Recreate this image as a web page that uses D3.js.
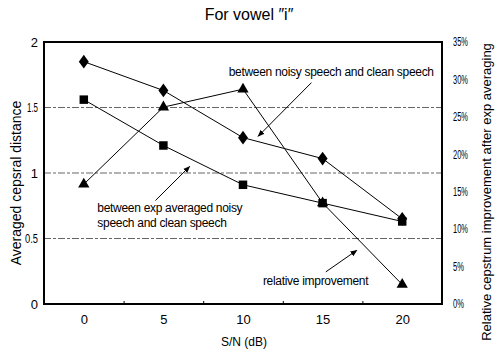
<!DOCTYPE html>
<html>
<head>
<meta charset="utf-8">
<script src="https://cdn.jsdelivr.net/npm/d3@7"></script>
<style>
  html, body { margin: 0; padding: 0; background: #fff; }
  svg { display: block; }
  text { font-family: "Liberation Sans", Arial, sans-serif; fill: #000; }
</style>
</head>
<body>
<svg id="chart" width="497" height="352"></svg>
<script>
// ---- data ----
const snr = [0, 5, 10, 15, 20];
const noisyDist = [1.85, 1.63, 1.27, 1.11, 0.65];      // diamonds
const expAvgDist = [1.56, 1.21, 0.91, 0.77, 0.63];     // squares
const relImprove = [16.0, 26.3, 28.7, 13.5, 2.6];      // triangles (%)
const leftTicks = [0, 0.5, 1, 1.5, 2];
const rightTicks = [0, 5, 10, 15, 20, 25, 30, 35];
const xTicks = [0, 5, 10, 15, 20];
const xMinor = [2.5, 7.5, 12.5, 17.5];
const gridVals = [0.5, 1, 1.5];
const titleText = "For vowel \u2033i\u2033";
const xLabel = "S/N (dB)";
const yLabel = "Averaged cepsral distance";
const y2Label = "Relative cepstrum improvement after exp averaging";
// annotations in data coordinates (x in dB, y in left-axis units)
const notes = [
  { lines: ["between noisy speech and clean speech"], x: 9.1, y: 1.74, from: [14.3, 1.69], to: [10.95, 1.28] },
  { lines: ["between exp averaged noisy", "speech and clean speech"], x: 0.85, y: 0.70, from: [4.5, 0.79], to: [6.65, 1.05] },
  { lines: ["relative improvement"], x: 11.25, y: 0.145, from: [15.2, 0.245], to: [17.15, 0.41] }
];

// ---- layout ----
const svg = d3.select("#chart");
const L = 44, R = 442, T = 42, B = 304;

const x = d3.scaleLinear().domain([-2.5, 22.5]).range([L, R]);
const y = d3.scaleLinear().domain([0, 2]).range([B, T]);
const y2 = d3.scaleLinear().domain([0, 35]).range([B, T]);

svg.append("defs").append("marker")
  .attr("id", "ah").attr("viewBox", "0 0 10 10")
  .attr("refX", 9).attr("refY", 5)
  .attr("markerWidth", 7).attr("markerHeight", 7)
  .attr("markerUnits", "userSpaceOnUse")
  .attr("orient", "auto")
  .append("path").attr("d", "M0,1 L10,5 L0,9 Z").attr("fill", "#000");

// grid lines
svg.append("g").selectAll("line").data(gridVals).join("line")
  .attr("x1", L).attr("x2", R)
  .attr("y1", d => y(d)).attr("y2", d => y(d))
  .attr("stroke", "#666").attr("stroke-width", 1)
  .attr("stroke-dasharray", "7,2,3,2");

// left axis labels
const gl = svg.append("g").attr("transform", `translate(${L},0)`)
  .call(d3.axisLeft(y).tickValues(leftTicks).tickSize(0).tickPadding(6)
    .tickFormat(d => d === 0.5 ? "0.5" : d3.format("")(d)));
gl.select(".domain").remove();
gl.selectAll("text").attr("font-size", 13).attr("font-family", "Liberation Sans, Arial, sans-serif")
  .each(function(d) {
    const s = d3.select(this);
    if (d === 0.5) s.attr("textLength", 13).attr("lengthAdjust", "spacingAndGlyphs");
    if (d === 1.5) s.attr("textLength", 11).attr("lengthAdjust", "spacingAndGlyphs");
  });

// right axis labels
const gr = svg.append("g").attr("transform", `translate(${R},0)`)
  .call(d3.axisRight(y2).tickValues(rightTicks).tickSize(0).tickPadding(11)
    .tickFormat(d => d + "%"));
gr.select(".domain").remove();
gr.selectAll("text").attr("font-size", 12).attr("font-family", "Liberation Sans, Arial, sans-serif")
  .attr("textLength", d => d < 10 ? 11 : 15).attr("lengthAdjust", "spacingAndGlyphs");

// bottom axis labels
const gb = svg.append("g").attr("transform", `translate(0,${B})`)
  .call(d3.axisBottom(x).tickValues(xTicks).tickSize(0).tickPadding(11));
gb.select(".domain").remove();
gb.selectAll("text").attr("font-size", 13).attr("font-family", "Liberation Sans, Arial, sans-serif");

// bottom minor ticks (inward)
const gm = svg.append("g").attr("transform", `translate(0,${B})`)
  .call(d3.axisTop(x).tickValues(xMinor).tickSize(3).tickFormat(""));
gm.select(".domain").remove();
gm.selectAll("line").attr("stroke", "#000");

// frame
svg.append("rect").attr("x", L).attr("y", T).attr("width", R - L).attr("height", B - T)
  .attr("fill", "none").attr("stroke", "#000").attr("stroke-width", 2);

// series lines
const lineL = d3.line().x((d, i) => x(snr[i])).y(d => y(d));
const lineR = d3.line().x((d, i) => x(snr[i])).y(d => y2(d));
svg.append("path").attr("d", lineL(noisyDist)).attr("fill", "none").attr("stroke", "#000").attr("stroke-width", 1);
svg.append("path").attr("d", lineL(expAvgDist)).attr("fill", "none").attr("stroke", "#000").attr("stroke-width", 1);
svg.append("path").attr("d", lineR(relImprove)).attr("fill", "none").attr("stroke", "#000").attr("stroke-width", 1);

// markers
const sym = (type, size) => d3.symbol().type(type).size(size)();
svg.append("g").selectAll("path").data(relImprove).join("path")
  .attr("d", sym(d3.symbolTriangle, 55))
  .attr("transform", (d, i) => `translate(${x(snr[i])},${y2(d)})`).attr("fill", "#000");
svg.append("g").selectAll("path").data(expAvgDist).join("path")
  .attr("d", sym(d3.symbolSquare, 72))
  .attr("transform", (d, i) => `translate(${x(snr[i])},${y(d)})`).attr("fill", "#000");
svg.append("g").selectAll("path").data(noisyDist).join("path")
  .attr("d", sym(d3.symbolDiamond, 55))
  .attr("transform", (d, i) => `translate(${x(snr[i])},${y(d)}) scale(1.25,1)`).attr("fill", "#000");

// annotations
notes.forEach(n => {
  const t = svg.append("text").attr("x", x(n.x)).attr("y", y(n.y))
    .attr("font-size", 12).attr("letter-spacing", -0.3);
  n.lines.forEach((s, i) => {
    t.append("tspan").attr("x", x(n.x)).attr("dy", i === 0 ? 0 : 15).text(s);
  });
  svg.append("line")
    .attr("x1", x(n.from[0])).attr("y1", y(n.from[1]))
    .attr("x2", x(n.to[0])).attr("y2", y(n.to[1]))
    .attr("stroke", "#000").attr("stroke-width", 1)
    .attr("marker-end", "url(#ah)");
});

// titles
svg.append("text").attr("x", 249).attr("y", 20).attr("text-anchor", "middle")
  .attr("font-size", 16).text(titleText);
svg.append("text").attr("x", (L + R) / 2 + 1).attr("y", 346).attr("text-anchor", "middle")
  .attr("font-size", 12).text(xLabel);
svg.append("text").attr("transform", `translate(21,${(T + B) / 2 + 10}) rotate(-90)`)
  .attr("text-anchor", "middle").attr("font-size", 14).text(yLabel);
svg.append("text").attr("transform", `translate(491,${(T + B) / 2 + 19}) rotate(-90)`)
  .attr("text-anchor", "middle").attr("font-size", 13).text(y2Label);
</script>
</body>
</html>
